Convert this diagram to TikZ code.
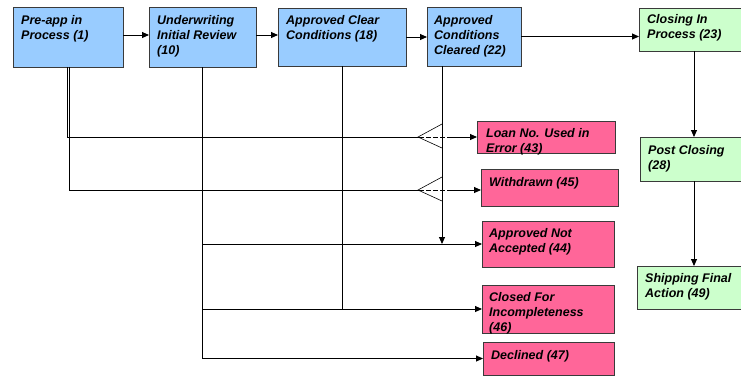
\documentclass[tikz,border=0pt]{standalone}
\usepackage{fontspec}
\setmainfont{Liberation Sans}
\usetikzlibrary{arrows.meta,calc}
\definecolor{stageblue}{HTML}{99CCFF}
\definecolor{stagegreen}{HTML}{CCFFCC}
\definecolor{stagepink}{HTML}{FF6699}
\definecolor{edgegray}{HTML}{3A3A3A}
\begin{document}
\begin{tikzpicture}[x=1pt,y=-1pt,
  stagebox/.style={draw=edgegray,line width=0.9pt,inner sep=0pt,outer sep=0pt,anchor=north west},
  bluebox/.style={stagebox,fill=stageblue},
  greenbox/.style={stagebox,fill=stagegreen},
  pinkbox/.style={stagebox,fill=stagepink},
  label text/.style={anchor=north west,inner sep=0pt,align=left,
    font=\fontsize{12.5}{15.3}\selectfont\bfseries\itshape},
  flow/.style={line width=0.9pt},
  arr/.style={flow,-{Triangle[length=7pt,width=6pt]}},
  jump/.style={line width=0.6pt}]
\useasboundingbox (0,0) rectangle (741,376);
\begin{scope}
\clip (0,0) rectangle (741,376);
% main pipeline
\node[bluebox,minimum width=110pt,minimum height=60pt] (pre) at (13,7) {};
\node[bluebox,minimum width=107pt,minimum height=60pt] (uw) at (149,7) {};
\node[bluebox,minimum width=128pt,minimum height=58pt] (ac) at (278,8) {};
\node[bluebox,minimum width=94pt,minimum height=59pt] (acc) at (427,7) {};
% closing track
\node[greenbox,minimum width=110pt,minimum height=43pt] (cl) at (639,8) {};
\node[greenbox,minimum width=110pt,minimum height=44pt] (post) at (640,137) {};
\node[greenbox,minimum width=110pt,minimum height=43pt] (ship) at (637,266) {};
% terminal states
\node[pinkbox,minimum width=138pt,minimum height=32pt] (loan) at (477,121) {};
\node[pinkbox,minimum width=137pt,minimum height=37pt] (wd) at (481,169) {};
\node[pinkbox,minimum width=132pt,minimum height=46pt] (ana) at (482,221) {};
\node[pinkbox,minimum width=132pt,minimum height=48pt] (cfi) at (482,285) {};
\node[pinkbox,minimum width=131pt,minimum height=33pt] (dec) at (483,342) {};
\end{scope}

% box labels
\node[label text] (preT) at ([xshift=8pt,yshift=-8pt]pre.north west) {Pre-app in\\Process (1)};
\node[label text] (uwT) at ([xshift=8pt,yshift=-8pt]uw.north west) {Underwriting\\Initial Review\\(10)};
\node[label text] (acT) at ([xshift=8pt,yshift=-7pt]ac.north west) {Approved Clear\\Conditions (18)};
\node[label text] (accT) at ([xshift=7pt,yshift=-8pt]acc.north west) {Approved\\Conditions\\Cleared (22)};
\node[label text] (clT) at ([xshift=8pt,yshift=-6pt]cl.north west) {Closing In\\Process (23)};
\node[label text] (postT) at ([xshift=8pt,yshift=-8pt]post.north west) {Post Closing\\(28)};
\node[label text] (shipT) at ([xshift=8pt,yshift=-7pt]ship.north west) {Shipping Final\\Action (49)};
\node[label text] (loanT) at ([xshift=9pt,yshift=-7pt]loan.north west) {Loan No. Used in\\Error (43)};
\node[label text] (wdT) at ([xshift=8pt,yshift=-8pt]wd.north west) {Withdrawn (45)};
\node[label text] (anaT) at ([xshift=7pt,yshift=-7pt]ana.north west) {Approved Not\\Accepted (44)};
\node[label text] (cfiT) at ([xshift=7pt,yshift=-7pt]cfi.north west) {Closed For\\Incompleteness\\(46)};
\node[label text] (decT) at ([xshift=8pt,yshift=-8pt]dec.north west) {Declined (47)};

% forward flow along the top
\draw[arr] ([yshift=2pt]pre.east) -- ([yshift=2pt]pre.east -| uw.west);
\draw[arr] ([yshift=2pt]uw.east) -- ([yshift=2pt]uw.east -| ac.west);
\draw[arr] (ac.east) -- (ac.east -| acc.west);
\draw[arr] (acc.east) -- (acc.east -| cl.west);
\draw[arr] (cl.south) -- (cl.south |- post.north);
\draw[arr] ([xshift=-1pt]post.south) -- ([xshift=-1pt]post.south |- ship.north);

% exits to terminal states
\draw[arr] ([xshift=-0.5pt]pre.south) |- (loan.west);
\draw[arr] ([xshift=1pt]pre.south) |- ([yshift=-2.5pt]wd.west);
\draw[arr] (uw.south) |- (ana.west);
\draw[arr] (uw.south) |- (cfi.west);
\draw[arr] (uw.south) |- (dec.west);
\draw[flow] (ac.south) |- ([xshift=-2pt]cfi.west);
\coordinate (accDrop) at ([xshift=-32pt]acc.south);
\draw[arr] (accDrop) -- (accDrop |- ana.west);

% crossings over the drop line
\coordinate (xLoan) at (accDrop |- loan.west);
\coordinate (xWd) at ($(accDrop |- wd.west)+(0,2.5)$);
\foreach \c in {xLoan,xWd}{
  \draw[white,line width=0.35pt,dash pattern=on 2pt off 5pt] ($(\c)+(-18,0)$) -- ($(\c)+(5,0)$);
  \draw[jump] ($(\c)+(0,-13)$) -- ($(\c)+(-24,0)$) -- ($(\c)+(0,11)$);
}
\end{tikzpicture}
\end{document}
